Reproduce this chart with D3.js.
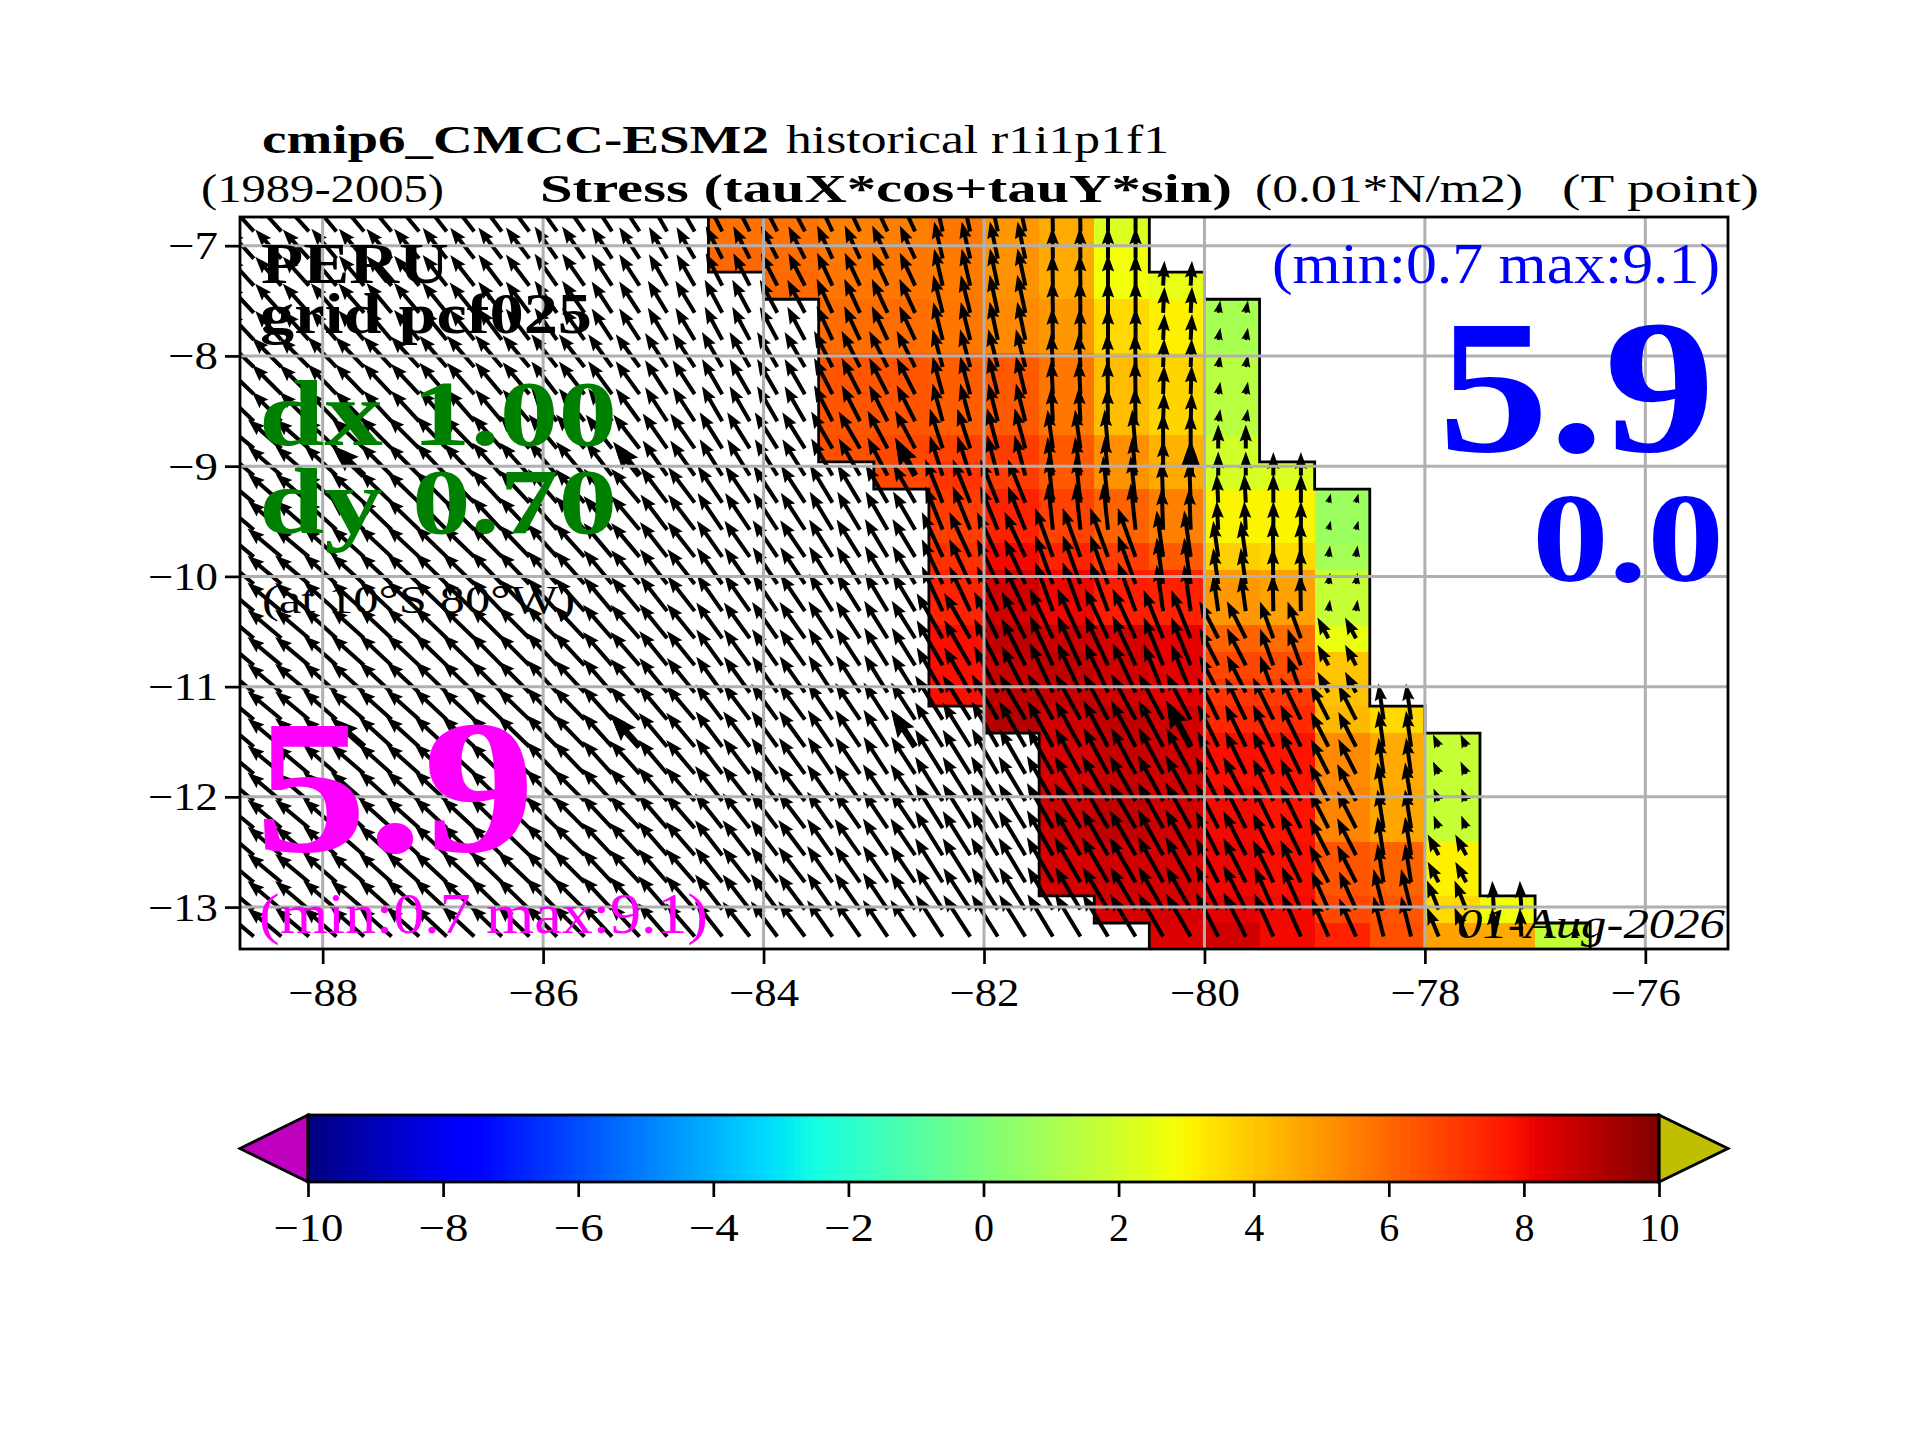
<!DOCTYPE html>
<html><head><meta charset="utf-8"><title>Stress</title>
<script src="https://cdn.jsdelivr.net/npm/d3@7"></script>
<style>html,body{margin:0;padding:0;background:#fff}svg{display:block}text{font-family:"Liberation Serif",serif}</style>
</head><body><svg id="c" width="1920" height="1440"></svg>
<script>
const lonTicks=[-88,-86,-84,-82,-80,-78,-76];
const latTicks=[-7,-8,-9,-10,-11,-12,-13];
const cbTicks=[-10,-8,-6,-4,-2,0,2,4,6,8,10];
const cellLonEdges=[-84.5,-84,-83.5,-83,-82.5,-82,-81.5,-81,-80.5,-80,-79.5,-79,-78.5,-78,-77.5,-77,-76.5];
const cellLatEdges=[-6.748,-6.994,-7.24,-7.486,-7.732,-7.978,-8.224,-8.47,-8.716,-8.962,-9.208,-9.454,-9.7,-9.946,-10.192,-10.438,-10.684,-10.93,-11.176,-11.422,-11.668,-11.914,-12.16,-12.406,-12.652,-12.898,-13.144,-13.39];
const N=null;
// alongshore stress, one row per latitude band, one column per 0.5 deg of longitude
const stress=[
[5.8,5.8,5.5,5.5,5.7,5.0,4.6,2.2,N,N,N,N,N,N,N,N],
[6.0,5.9,5.7,5.7,5.6,5.1,4.6,2.8,N,N,N,N,N,N,N,N],
[N,6.0,5.7,5.7,5.6,5.1,4.6,2.8,2.5,N,N,N,N,N,N,N],
[N,N,5.9,5.9,5.7,5.3,5.0,3.6,3.1,1.0,N,N,N,N,N,N],
[N,N,5.9,5.9,5.7,5.3,5.0,3.6,3.1,1.0,N,N,N,N,N,N],
[N,N,6.4,6.4,6.2,6.3,5.7,4.2,3.7,1.4,N,N,N,N,N,N],
[N,N,6.4,6.4,6.2,6.3,5.7,4.2,3.7,1.4,N,N,N,N,N,N],
[N,N,6.4,6.4,6.2,6.3,5.7,4.2,3.7,1.4,N,N,N,N,N,N],
[N,N,6.5,6.7,6.8,6.9,6.3,5.2,4.4,2.0,N,N,N,N,N,N],
[N,N,N,6.7,7.1,6.9,6.3,5.1,4.6,2.1,2.2,N,N,N,N,N],
[N,N,N,N,6.9,7.5,6.8,6.1,5.5,3.0,3.0,0.7,N,N,N,N],
[N,N,N,N,6.9,7.5,6.8,6.1,5.5,3.0,3.0,0.7,N,N,N,N],
[N,N,N,N,7.2,8.0,7.5,6.9,6.3,3.8,3.6,0.9,N,N,N,N],
[N,N,N,N,7.5,8.6,8.1,7.6,7.5,5.0,4.8,1.7,N,N,N,N],
[N,N,N,N,7.5,8.6,8.1,7.6,7.5,5.0,4.8,1.7,N,N,N,N],
[N,N,N,N,7.9,8.9,8.7,8.5,8.2,6.1,5.9,2.6,N,N,N,N],
[N,N,N,N,7.9,8.8,8.9,8.6,8.3,6.7,6.6,4.0,N,N,N,N],
[N,N,N,N,7.9,8.9,8.8,8.6,8.3,7.1,7.0,4.1,N,N,N,N],
[N,N,N,N,N,9.1,8.6,8.9,8.6,7.4,7.3,4.3,3.6,N,N,N],
[N,N,N,N,N,N,8.5,8.8,8.6,7.9,7.8,5.3,4.6,1.7,N,N],
[N,N,N,N,N,N,8.5,8.8,8.6,7.9,7.8,5.3,4.6,1.7,N,N],
[N,N,N,N,N,N,8.7,8.9,8.6,8.0,7.8,5.4,4.7,1.7,N,N],
[N,N,N,N,N,N,8.7,8.9,8.6,8.0,7.8,5.4,4.7,1.7,N,N],
[N,N,N,N,N,N,8.5,8.6,8.5,8.1,7.9,6.4,6.1,3.1,N,N],
[N,N,N,N,N,N,8.5,8.6,8.5,8.1,7.9,6.4,6.1,3.1,N,N],
[N,N,N,N,N,N,N,8.5,8.5,8.3,8.0,6.7,6.4,3.6,2.7,N],
[N,N,N,N,N,N,N,N,8.4,8.6,8.0,7.5,6.5,4.8,4.6,1.6]
];
// quiver rows use one of these blocks; columns: -89,-88.5,...,-84.5 | -84.5 ... -77 by 0.5 deg
const quiverBlockOfRow=[0,0,0,1,1,2,2,2,3,3,4,4,5,5,5,6,6,6,7,7,7,8,8,9,9,10,10];
const arrowDir=[
[42,42,40,40,38,37,35,33,30,27,27,25,25,13,12,1,0,-3,0,0,0,0,0,0,0],
[43,42,41,40,39,37,35,33,31,28,28,25,25,14,12,1,0,-3,-10,0,0,0,0,0,0],
[46,45,44,43,41,40,38,36,33,30,30,27,27,15,14,3,1,-2,-10,0,0,0,0,0,0],
[50,49,47,45,44,42,40,38,35,32,32,30,28,18,15,8,5,0,0,0,0,0,0,0,0],
[50,49,48,46,45,43,41,40,37,34,33,31,30,22,22,6,6,2,3,0,-15,0,0,0,0],
[50,50,48,47,46,44,42,40,38,35,34,32,31,25,25,20,20,8,8,1,-8,0,0,0,0],
[50,50,48,47,46,45,43,41,39,36,35,33,32,30,27,25,25,22,27,20,28,0,0,0,0],
[50,50,49,48,47,46,44,42,40,37,36,34,33,32,30,29,28,28,26,26,27,8,25,0,0],
[50,50,49,48,47,46,45,43,41,38,37,35,34,32,31,30,30,29,27,26,27,9,22,0,0],
[50,50,49,48,47,46,45,43,41,38,37,35,34,32,31,30,30,29,27,26,27,9,28,0,0],
[50,50,49,48,47,46,45,43,41,38,37,35,34,33,32,31,31,30,27,24,24,14,22,3,0]
];
const arrowMag=[
[7.5,7.5,7.5,7.5,7.5,7.5,7.5,7.2,7,7,7,7,7,7.3,7.3,6,6,4.8,0,0,0,0,0,0,0],
[7.5,7.5,7.5,7.5,7.5,7.5,7.5,7.2,7.2,7.2,7.2,7.2,7.2,7.5,7.5,6.2,6.2,5,2.4,0,0,0,0,0,0],
[8,8,8,8,8,8,8,7.8,7.8,7.8,7.8,7.8,7.8,7.5,7.5,6.5,6.5,5.5,2.4,0,0,0,0,0,0],
[8.5,8.5,8.5,8.5,8.5,8.5,8.5,8.2,8.2,8.2,8.2,8.2,8.2,8,8,7.5,7.5,6.8,4.6,4.5,0,0,0,0,0],
[8.5,8.5,8.5,8.5,8.5,8.5,8.5,8.5,8.5,8.5,8.5,8.5,8.5,9,9,9,9,8,5.5,5.5,1.8,0,0,0,0],
[8.5,8.5,8.5,8.5,8.5,8.5,8.5,8.5,8.5,8.5,8.5,8.5,8.5,9.5,9.5,10,10,9,7,7,2.2,0,0,0,0],
[8.5,8.5,8.5,8.5,8.5,8.5,8.5,8.5,8.5,8.5,8.5,8.5,8.5,10,10,10.5,10.5,10,8,7.5,4.5,0,0,0,0],
[8.5,8.5,8.5,8.5,8.5,8.5,8.5,8.5,8.5,8.5,8.5,8.5,8.5,10,10,10,10,10,9,9,7.5,7,2.6,0,0],
[8.5,8.5,8.5,8.5,8.5,8.5,8.5,8.5,8.5,8.5,8.5,8.5,8.5,10,10,10,10,10,9.5,9,8,7.5,2.6,0,0],
[8.5,8.5,8.5,8.5,8.5,8.5,8.5,8.5,8.5,8.5,8.5,8.5,8.5,10,10,10,10,10,9.5,9,8,7.5,4.5,0,0],
[8.5,8.5,8.5,8.5,8.5,8.5,8.5,8.5,8.5,8.5,8.5,8.5,8.5,9.5,9.5,9.5,9.5,9.5,9.5,9,8,8,6,5.5,2]
];
// sparse thicker arrows: longitude index and row
const boldArrowLons=[-87.625,-85.125,-82.625,-80.125];
const boldArrowRows=[9,19];
// jet colour stops
const jetT=[0,0.11,0.125,0.34,0.35,0.375,0.64,0.65,0.66,0.89,0.91,1];
const jetR=[0,0,0,0,0,0.081,0.952,0.984,1,1,0.909,0.5];
const jetG=[0,0,0,0.86,0.9,1,1,0.963,0.926,0.074,0,0];
const jetB=[0.5,1,1,1,0.97,0.89,0.03,0,0,0,0,0];

const W=1920,H=1440;
const ml=240,mr=1728,mt=217,mb=949;
const x=d3.scaleLinear().domain([-88.75,-75.25]).range([ml,mr]);
const y=d3.scaleLinear().domain([-13.38,-6.74]).range([mb,mt]);
const cb=d3.scaleLinear().domain([-10,10]).range([308,1659]);
const vToT=d3.scaleLinear().domain([-10,10]).range([0,1]);
const rr=d3.scaleLinear().domain(jetT).range(jetR);
const gg=d3.scaleLinear().domain(jetT).range(jetG);
const bb=d3.scaleLinear().domain(jetT).range(jetB);
const jet=v=>{const t=vToT(v);return d3.rgb(rr(t)*255,gg(t)*255,bb(t)*255).formatRgb();};
const magPx=d3.scaleLinear().domain([0,10]).range([0,52]);

const svg=d3.select("#c");
svg.append("defs").append("clipPath").attr("id","ax").append("rect")
  .attr("x",ml).attr("y",mt).attr("width",mr-ml).attr("height",mb-mt);
const plot=svg.append("g").attr("clip-path","url(#ax)");

// cells
const cells=[];
stress.forEach((r,i)=>r.forEach((v,j)=>{if(v!==null)cells.push({i,j,v});}));
plot.append("g").selectAll("rect").data(cells).join("rect")
  .attr("x",d=>x(cellLonEdges[d.j])).attr("width",d=>x(cellLonEdges[d.j+1])-x(cellLonEdges[d.j]))
  .attr("y",d=>y(cellLatEdges[d.i])).attr("height",d=>y(cellLatEdges[d.i+1])-y(cellLatEdges[d.i]))
  .attr("fill",d=>jet(d.v)).attr("shape-rendering","crispEdges");

// staircase outlines
const first=stress.map(r=>r.findIndex(v=>v!==null));
const last=stress.map(r=>{let k=r.length-1;while(r[k]===null)k--;return k;});
function stairs(idx,off){
  const p=d3.path();
  idx.forEach((c,i)=>{
    const X=x(cellLonEdges[c+off]);
    if(i===0)p.moveTo(X,y(cellLatEdges[0]));else p.lineTo(X,y(cellLatEdges[i]));
    p.lineTo(X,y(cellLatEdges[i+1]));
  });
  return p.toString();
}
plot.append("path").attr("d",stairs(first,0)).attr("fill","none").attr("stroke","#000").attr("stroke-width",2.8);
plot.append("path").attr("d",stairs(last,1)).attr("fill","none").attr("stroke","#000").attr("stroke-width",2.8);

// quiver
function arrowPath(x0,y0,dirDeg,L,w){
  const hl=4.25*w,ha=3.8*w,hw=1.55*w,sw=w/2;
  let pts;
  if(L>=hl)pts=[[0,sw],[L-ha,sw],[L-hl,hw],[L,0],[L-hl,-hw],[L-ha,-sw],[0,-sw]];
  else{const s=L/hl;pts=[[0,sw*s],[(hl-ha)*s,sw*s],[0,hw*s],[L,0],[0,-hw*s],[(hl-ha)*s,-sw*s],[0,-sw*s]];}
  const a=dirDeg*Math.PI/180, ux=-Math.sin(a), uy=-Math.cos(a), nx=-uy, ny=ux;
  const p=pts.map(q=>[x0+ux*q[0]+nx*q[1],y0+uy*q[0]+ny*q[1]]);
  return "M"+p.map(q=>q[0].toFixed(2)+","+q[1].toFixed(2)).join("L")+"Z";
}
const quiverLons=d3.range(0,50).map(n=>-88.625+0.25*n);
const quiverLats=d3.pairs(cellLatEdges).map(e=>(e[0]+e[1])/2);
const binOf=lon=>Math.floor((lon+89)/0.5);
const quiverG=plot.append("g").attr("fill","#000");
quiverLats.forEach((lat,i)=>{
  const b=quiverBlockOfRow[i], maxLon=cellLonEdges[last[i]+1];
  let d="";
  quiverLons.forEach(lon=>{
    if(lon>maxLon)return;
    const k=binOf(lon);
    d+=arrowPath(x(lon),y(lat),arrowDir[b][k],magPx(arrowMag[b][k]),4);
  });
  quiverG.append("path").attr("d",d);
});
let dB="";
boldArrowRows.forEach(i=>boldArrowLons.forEach(lon=>{
  const b=quiverBlockOfRow[i],k=binOf(lon);
  dB+=arrowPath(x(lon),y(quiverLats[i]),arrowDir[b][k],magPx(arrowMag[b][k]),6.5);
}));
plot.append("path").attr("d",dB).attr("fill","#000");

// grid
const gridG=plot.append("g").attr("stroke","#b0b0b0").attr("stroke-width",3);
gridG.selectAll("line.v").data(lonTicks).join("line").attr("class","v")
  .attr("x1",d=>x(d)).attr("x2",d=>x(d)).attr("y1",mt).attr("y2",mb);
gridG.selectAll("line.h").data(latTicks).join("line").attr("class","h")
  .attr("y1",d=>y(d)).attr("y2",d=>y(d)).attr("x1",ml).attr("x2",mr);

// axes
function styleAxis(g){
  g.select(".domain").remove();
  g.selectAll("line").attr("stroke","#000").attr("stroke-width",2.7);
  g.selectAll("text").attr("fill","#000").style("font-size","40px").style("font-family",'"Liberation Serif",serif')
    .each(function(d){
      const digits=String(Math.abs(d)).length;
      if(d<0)d3.select(this).attr("textLength",digits*20+30).attr("lengthAdjust","spacingAndGlyphs");
    });
}
const xAxis=svg.append("g").attr("transform",`translate(0,${mb})`)
  .call(d3.axisBottom(x).tickValues(lonTicks).tickSize(15).tickPadding(0).tickFormat(d3.format("d"))).call(styleAxis);
xAxis.selectAll("text").attr("y",57).attr("dy",0);
const yAxis=svg.append("g").attr("transform",`translate(${ml},0)`)
  .call(d3.axisLeft(y).tickValues(latTicks).tickSize(15).tickPadding(0).tickFormat(d3.format("d"))).call(styleAxis);
yAxis.selectAll("text").attr("x",-22).attr("dy",13);
svg.append("rect").attr("x",ml).attr("y",mt).attr("width",mr-ml).attr("height",mb-mt)
  .attr("fill","none").attr("stroke","#000").attr("stroke-width",2.8);

// colour bar
const cbTop=1115,cbBot=1182,cbMid=(cbTop+cbBot)/2;
const cbSteps=d3.range(-10,10,0.08);
svg.append("g").selectAll("rect").data(cbSteps).join("rect")
  .attr("x",d=>cb(d)).attr("width",cb(0.08)-cb(0)+0.6).attr("y",cbTop).attr("height",cbBot-cbTop)
  .attr("fill",d=>jet(d+0.04)).attr("shape-rendering","crispEdges");
svg.append("path").attr("d",`M${cb(-10)},${cbTop}L240,${cbMid}L${cb(-10)},${cbBot}Z`).attr("fill","#bf00bf").attr("stroke","#000").attr("stroke-width",2.8).attr("stroke-linejoin","miter");
svg.append("path").attr("d",`M${cb(10)},${cbTop}L1728,${cbMid}L${cb(10)},${cbBot}Z`).attr("fill","#bfbf00").attr("stroke","#000").attr("stroke-width",2.8);
svg.append("rect").attr("x",cb(-10)).attr("y",cbTop).attr("width",cb(10)-cb(-10)).attr("height",cbBot-cbTop).attr("fill","none").attr("stroke","#000").attr("stroke-width",2.8);
const cbAxis=svg.append("g").attr("transform",`translate(0,${cbBot})`)
  .call(d3.axisBottom(cb).tickValues(cbTicks).tickSize(15).tickPadding(0).tickFormat(d3.format("d"))).call(styleAxis);
cbAxis.selectAll("text").attr("y",59).attr("dy",0);

// text
function label(s,x0,x1,base,size,color,opts){
  opts=opts||{};
  svg.append("text").text(s).attr("x",x0).attr("y",base).attr("fill",color||"#000")
    .style("font-size",size+"px").style("font-weight",opts.bold?"bold":"normal").style("font-style",opts.italic?"italic":"normal")
    .attr("textLength",x1-x0).attr("lengthAdjust","spacingAndGlyphs");
}
label("cmip6_CMCC-ESM2",262,769,153,40,"#000",{bold:true});
label("historical r1i1p1f1",786,1169,153,40);
label("(1989-2005)",201,444,202,40);
label("Stress (tauX*cos+tauY*sin)",540,1232,202,40,"#000",{bold:true});
label("(0.01*N/m2)",1255,1523,202,40);
label("(T point)",1562,1759,202,40);
label("PERU",261,449,283,58,"#000",{bold:true});
label("grid pcf025",260,592,333,58,"#000",{bold:true});
label("dx 1.00",259,617,445,93,"#008000",{bold:true});
label("dy 0.70",259,617,533,93,"#008000",{bold:true});
label("(at 10°S 80°W)",262,575,613,40);
label("5.9",255,535,851,190,"#ff00ff",{bold:true});
label("(min:0.7 max:9.1)",259,708,933,58,"#ff00ff");
label("(min:0.7 max:9.1)",1272,1720,283,58,"#0000ff");
label("5.9",1438,1715,451,190,"#0000ff",{bold:true});
label("0.0",1532,1724,581,128,"#0000ff",{bold:true});
label("01-Aug-2026",1457,1725,938,42,"#000",{italic:true});
</script></body></html>
